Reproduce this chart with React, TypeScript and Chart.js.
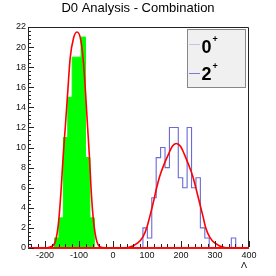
import React, { useEffect, useRef } from "react";
import { Chart, registerables } from "chart.js";

Chart.register(...registerables);

// ---- data ----
const xMin = -250;
const xMax = 400;
const binWidth = 13;
const yMax = 22;

const greenFirstEdge = -172;
const greenCounts = [1, 3, 11, 15, 19, 19, 21, 9, 3];

const blueFirstEdge = 88;
const blueCounts = [2, 1, 5, 9, 10, 8, 12, 12, 7, 6, 12, 6, 7, 2, 1, 0, 0, 0, 0, 0, 1];

const greenFitX = [-250, -200, -185, -170, -160, -153, -147, -140, -133, -126, -116, -106, -96, -88, -81, -75, -69, -64, -57, -47, -32, -10, 400];
const greenFitY = [0, 0, 0.1, 0.6, 2.6, 5.6, 8.9, 12.2, 15.6, 18.9, 20.9, 21.5, 20.9, 18.9, 15.6, 12.2, 8.9, 5.6, 2.6, 0.6, 0.05, 0, 0];

const blueFitX = [-250, 20, 45, 73, 88, 100, 108, 118, 127, 137, 151, 164, 174, 186, 199, 209, 221, 235, 245, 255, 265, 272, 284, 299, 328, 360, 400];
const blueFitY = [0, 0, 0.05, 0.5, 1.1, 2.1, 3.1, 4.45, 5.8, 7.1, 8.4, 9.4, 10.1, 10.4, 10.1, 9.4, 8.4, 7.1, 5.8, 4.45, 3.1, 2.1, 1.1, 0.5, 0.05, 0, 0];

const xTickLabels = [-200, -100, 0, 100, 200, 300, 400];
const titleText = "D0 Analysis - Combination";
const xAxisTitle = "Λ";
const legendLabels = ["0", "2"];
const legendSup = "+";

function histPoints(firstEdge: number, counts: number[]) {
  const pts: { x: number; y: number }[] = [];
  for (let e = xMin; e < xMax - 0.001; e += binWidth) {
    const idx = Math.round((e - firstEdge) / binWidth);
    const v = idx >= 0 && idx < counts.length ? counts[idx] : 0;
    pts.push({ x: e, y: v });
  }
  pts.push({ x: xMax, y: 0 });
  return pts;
}

const FONT = "'Liberation Sans', Arial, Helvetica, sans-serif";

const rootPlugin = {
  id: "rootStyle",
  beforeDatasetsDraw(chart: any) {
    const { ctx, chartArea } = chart;
    const { left, right, top, bottom } = chartArea;
    ctx.save();
    ctx.strokeStyle = "#222";
    ctx.lineWidth = 1;
    ctx.beginPath();
    ctx.moveTo(left + 0.5, bottom);
    ctx.lineTo(left + 0.5, top + 0.5);
    ctx.lineTo(right - 0.5, top + 0.5);
    ctx.lineTo(right - 0.5, bottom);
    ctx.stroke();
    ctx.restore();
  },
  afterDatasetsDraw(chart: any) {
    const { ctx, chartArea, scales } = chart;
    const { left, right, bottom } = chartArea;
    const x = scales.x;
    const y = scales.y;
    ctx.save();
    // red baseline where the fit functions run along zero
    ctx.strokeStyle = "#ff0000";
    ctx.lineWidth = 1.6;
    ctx.beginPath();
    ctx.moveTo(left, y.getPixelForValue(0));
    ctx.lineTo(right, y.getPixelForValue(0));
    ctx.stroke();

    ctx.strokeStyle = "#222";
    ctx.lineWidth = 1;
    ctx.beginPath();
    for (let v = -240; v <= xMax; v += 20) {
      const px = Math.round(x.getPixelForValue(v)) + 0.5;
      const len = v % 100 === 0 ? 6 : 3;
      ctx.moveTo(px, bottom - 1);
      ctx.lineTo(px, bottom - 1 - len);
    }
    for (let i = 0; i <= 55; i++) {
      const v = i * 0.4;
      if (v > yMax + 0.001) break;
      const py = Math.round(y.getPixelForValue(v)) + 0.5;
      const len = i % 5 === 0 ? 6 : 3;
      ctx.moveTo(left, py);
      ctx.lineTo(left + len, py);
    }
    ctx.stroke();
    ctx.restore();
  },
  afterDraw(chart: any) {
    const { ctx } = chart;
    ctx.save();
    ctx.fillStyle = "#000";
    ctx.textAlign = "center";
    ctx.textBaseline = "alphabetic";
    ctx.font = `13px ${FONT}`;
    ctx.fillText(titleText, 138, 12);
    ctx.font = `9px ${FONT}`;
    ctx.fillText(xAxisTitle, 244, 267.5);
    ctx.fillStyle = "#f0f0f0";
    ctx.fillRect(187, 29, 59, 59);
    ctx.strokeStyle = "#888";
    ctx.lineWidth = 1;
    ctx.strokeRect(187.5, 29.5, 58, 58);
    const entries = [
      { lineY: 44.5, color: "#c4c4ec", base: 52.5, supBase: 42 },
      { lineY: 73.5, color: "#7a7ad6", base: 80, supBase: 69 },
    ];
    entries.forEach((e, i) => {
      ctx.strokeStyle = e.color;
      ctx.beginPath();
      ctx.moveTo(189, e.lineY);
      ctx.lineTo(200, e.lineY);
      ctx.stroke();
      ctx.fillStyle = "#000";
      ctx.textAlign = "left";
      ctx.font = `bold 18px ${FONT}`;
      ctx.fillText(legendLabels[i], 201.5, e.base);
      ctx.font = `bold 9px ${FONT}`;
      ctx.fillText(legendSup, 212.5, e.supBase);
    });
    ctx.restore();
  },
};

export default function App() {
  const ref = useRef<HTMLCanvasElement | null>(null);

  useEffect(() => {
    if (!ref.current) return;
    const chart = new Chart(ref.current, {
      type: "line",
      data: {
        datasets: [
          {
            label: "fit green",
            data: greenFitX.map((xv, i) => ({ x: xv, y: greenFitY[i] })),
            borderColor: "#ff0000",
            borderWidth: 1.6,
            pointRadius: 0,
            cubicInterpolationMode: "monotone",
            fill: false,
            clip: 2,
            order: 0,
          },
          {
            label: "fit blue",
            data: blueFitX.map((xv, i) => ({ x: xv, y: blueFitY[i] })),
            borderColor: "#ff0000",
            borderWidth: 1.6,
            pointRadius: 0,
            cubicInterpolationMode: "monotone",
            fill: false,
            clip: 2,
            order: 0,
          },
          {
            label: "2+",
            data: histPoints(blueFirstEdge, blueCounts),
            borderColor: "#6a6ad8",
            borderWidth: 1.1,
            pointRadius: 0,
            stepped: "before",
            fill: false,
            order: 1,
          },
          {
            label: "0+",
            data: histPoints(greenFirstEdge, greenCounts),
            borderColor: "#00ff00",
            backgroundColor: "#00ff00",
            borderWidth: 1,
            pointRadius: 0,
            stepped: "before",
            fill: "origin",
            order: 2,
          },
        ],
      },
      options: {
        animation: false,
        responsive: false,
        devicePixelRatio: 1,
        layout: { padding: { top: 27, right: 27, left: 0, bottom: 0 } },
        plugins: {
          legend: { display: false },
          title: { display: false },
          tooltip: { enabled: false },
        },
        scales: {
          x: {
            type: "linear",
            min: xMin,
            max: xMax,
            grid: { display: false, drawTicks: false },
            border: { display: false },
            afterBuildTicks: (s: any) => {
              s.ticks = xTickLabels.map((v) => ({ value: v }));
            },
            afterFit: (s: any) => {
              s.height = 28;
            },
            ticks: {
              padding: 2,
              maxRotation: 0,
              autoSkip: false,
              color: "#111",
              font: { family: FONT, size: 9 },
            },
          },
          y: {
            type: "linear",
            min: 0,
            max: yMax,
            grid: { display: false, drawTicks: false },
            border: { display: false },
            afterFit: (s: any) => {
              s.width = 28;
            },
            ticks: {
              stepSize: 2,
              padding: 2,
              autoSkip: false,
              color: "#111",
              font: { family: FONT, size: 9 },
            },
          },
        },
      },
      plugins: [rootPlugin],
    } as any);
    return () => chart.destroy();
  }, []);

  return (
    <div style={{ position: "fixed", left: 0, top: 0, width: 276, height: 276, background: "#fff" }}>
      <canvas ref={ref} width={276} height={276} style={{ display: "block" }} />
    </div>
  );
}
